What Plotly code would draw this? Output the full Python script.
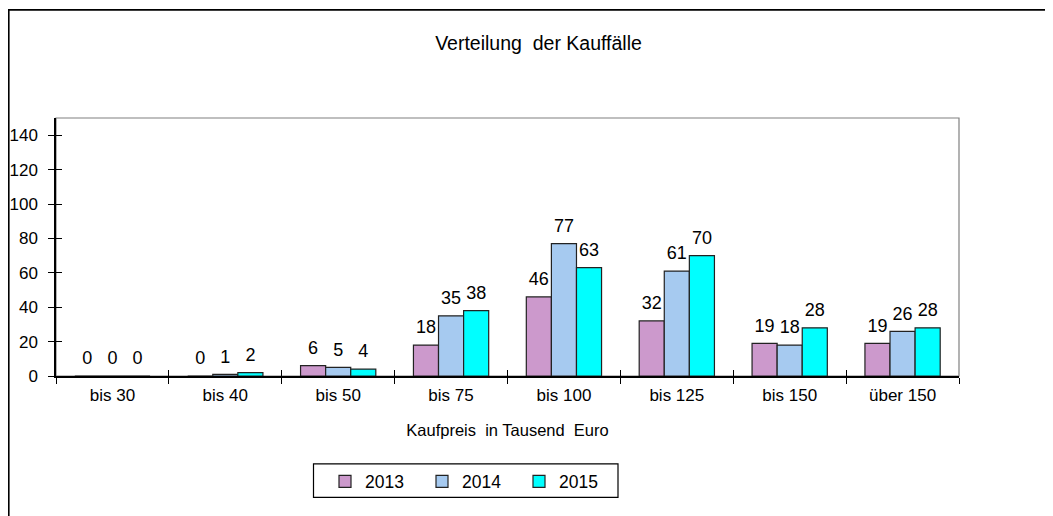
import plotly.graph_objects as go

categories = ["bis 30", "bis 40", "bis 50", "bis 75", "bis 100", "bis 125", "bis 150", "über 150"]
years = ["2013", "2014", "2015"]
v2013 = [0, 0, 6, 18, 46, 32, 19, 19]
v2014 = [0, 1, 5, 35, 77, 61, 18, 26]
v2015 = [0, 2, 4, 38, 63, 70, 28, 28]
colors = ["#CC99CC", "#A6CAF0", "#00FFFF"]
y_ticks = [0, 20, 40, 60, 80, 100, 120, 140]

FONT = "Liberation Sans, Arial, sans-serif"

# page body has an 8px margin; figure coordinates = page coordinates - 8
OFF = 8
W, H = 1053 - OFF, 516 - OFF
L = 56 - OFF
R = W - (959 - OFF)
T = 118 - OFF
B = H - (375.7 - OFF)
pw, ph = W - L - R, H - T - B


def px_x(p):  # page pixel -> paper x
    return (p - OFF - L) / pw


def px_y(p):  # page pixel -> paper y
    return (H - B - (p - OFF)) / ph


fig = go.Figure()
for name, vals, col in zip(years, [v2013, v2014, v2015], colors):
    fig.add_trace(go.Bar(
        x=categories, y=vals, name=name, offsetgroup=name,
        marker=dict(color=col, line=dict(color="#222222", width=1.2)),
    ))
for name, vals in zip(years, [v2013, v2014, v2015]):
    fig.add_trace(go.Scatter(
        x=categories, y=vals, name=name, offsetgroup=name,
        mode="markers+text", marker=dict(size=10, opacity=0),
        text=[str(v) for v in vals], textposition="top center",
        textfont=dict(family=FONT, size=18, color="#000000"),
        showlegend=False, hoverinfo="skip", cliponaxis=False,
    ))

fig.update_layout(
    width=W, height=H,
    margin=dict(l=L, r=R, t=T, b=B, autoexpand=False),
    paper_bgcolor="white", plot_bgcolor="white",
    barmode="group", bargap=1/3, bargroupgap=0,
    scattermode="group", scattergap=1/3,
    font=dict(family=FONT, size=16, color="#000000"),
    title=dict(text="Verteilung  der Kauffälle", x=px_x(538.5), xref="paper",
               xanchor="center", y=1 - (43 - OFF) / H, yref="container", yanchor="middle",
               font=dict(family=FONT, size=19.5, color="#000000")),
    xaxis=dict(type="category", categoryorder="array", categoryarray=categories,
               range=[-0.5, len(categories) - 0.5], automargin=False,
               showline=True, linecolor="#000000", linewidth=1.5,
               ticks="outside", ticklen=6, tickcolor="#000000", tickwidth=1.2,
               tickson="boundaries", showgrid=False, zeroline=False,
               tickfont=dict(family=FONT, size=17), ticklabelstandoff=3,
               title=dict(text="Kaufpreis  in Tausend  Euro", standoff=20,
                          font=dict(family=FONT, size=16.5))),
    yaxis=dict(range=[0, 150], tickvals=y_ticks, showline=True, linecolor="#000000",
               linewidth=1.5, ticks="outside", ticklen=6, tickcolor="#000000",
               tickwidth=1.2, showgrid=False, zeroline=False, automargin=False,
               tickfont=dict(family=FONT, size=17), ticklabelstandoff=7),
    xaxis2=dict(overlaying="x", type="linear", range=[-0.5, len(categories) - 0.5],
                tickvals=[i - 0.5 for i in range(len(categories) + 1)],
                ticks="inside", ticklen=6, tickcolor="#000000", tickwidth=1.2,
                showticklabels=False, showgrid=False, zeroline=False, showline=False,
                side="bottom", automargin=False),
    yaxis2=dict(overlaying="y", range=[0, 150], tickvals=y_ticks,
                ticks="inside", ticklen=6, tickcolor="#000000", tickwidth=1.2,
                showticklabels=False, showgrid=False, zeroline=False, showline=False,
                side="left", automargin=False),
    legend=dict(orientation="h", x=px_x(325), xanchor="left", y=px_y(463), yanchor="top",
                bgcolor="rgba(0,0,0,0)", borderwidth=0, entrywidth=52, itemwidth=30,
                font=dict(family=FONT, size=17.5), itemclick=False),
    shapes=[
        dict(type="rect", xref="paper", yref="paper", x0=px_x(8.8), y0=px_y(540),
             x1=px_x(1080), y1=px_y(10), line=dict(color="#000000", width=1.6),
             layer="below"),
        dict(type="rect", xref="paper", yref="paper", x0=0, y0=0, x1=1, y1=1,
             line=dict(color="#808080", width=1.2), layer="below"),
        dict(type="rect", xref="paper", yref="paper", x0=px_x(313.5), y0=px_y(497),
             x1=px_x(618), y1=px_y(463.5), line=dict(color="#000000", width=1.2),
             layer="below"),
    ],
)
# invisible trace to activate the overlay axes
fig.add_trace(go.Scatter(x=[0], y=[0], xaxis="x2", yaxis="y2", mode="markers",
                         marker=dict(opacity=0), showlegend=False, hoverinfo="skip"))

fig.write_html("out.html")
